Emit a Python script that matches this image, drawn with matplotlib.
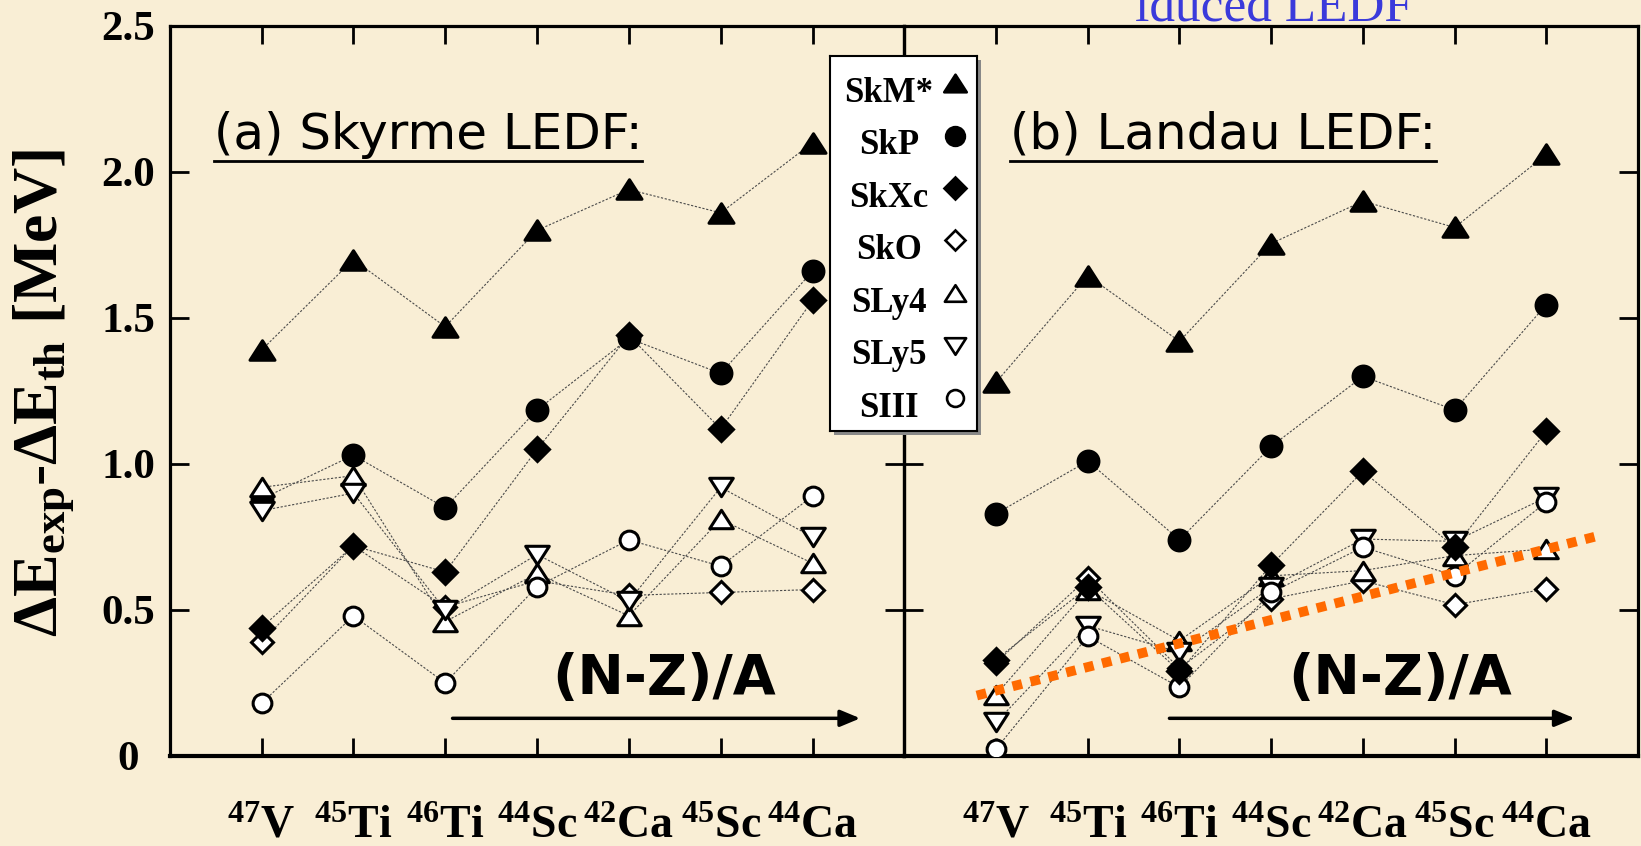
import numpy as np
import matplotlib.pyplot as plt
from matplotlib.lines import Line2D
from matplotlib.patches import Rectangle
from matplotlib.path import Path

plt.rcParams['font.family'] = ['Liberation Serif', 'DejaVu Serif']
plt.rcParams['font.weight'] = 'bold'
plt.rcParams['mathtext.fontset'] = 'custom'
plt.rcParams['mathtext.rm'] = 'Liberation Serif:bold'
plt.rcParams['mathtext.it'] = 'Liberation Serif:bold'
plt.rcParams['mathtext.bf'] = 'Liberation Serif:bold'

# nuclei along the x axis, ordered by (N-Z)/A
mass = [47, 45, 46, 44, 42, 45, 44]
element = ['V', 'Ti', 'Ti', 'Sc', 'Ca', 'Sc', 'Ca']
forces = ['SkM*', 'SkP', 'SkXc', 'SkO', 'SLy4', 'SLy5', 'SIII']

# (a) Skyrme LEDF: dE_exp - dE_th [MeV]
skm_a = [1.39, 1.70, 1.47, 1.80, 1.94, 1.86, 2.10]
skp_a = [0.88, 1.03, 0.85, 1.185, 1.43, 1.31, 1.66]
skxc_a = [0.44, 0.72, 0.63, 1.05, 1.44, 1.12, 1.56]
sko_a = [0.39, 0.72, 0.51, 0.60, 0.55, 0.56, 0.57]
sly4_a = [0.92, 0.96, 0.46, 0.625, 0.48, 0.81, 0.66]
sly5_a = [0.84, 0.90, 0.50, 0.69, 0.53, 0.92, 0.75]
siii_a = [0.18, 0.48, 0.25, 0.58, 0.74, 0.65, 0.89]

# (b) Landau LEDF
skm_b = [1.28, 1.645, 1.42, 1.755, 1.90, 1.81, 2.06]
skp_b = [0.83, 1.01, 0.74, 1.06, 1.30, 1.185, 1.546]
skxc_b = [0.33, 0.578, 0.29, 0.654, 0.975, 0.715, 1.112]
sko_b = [0.32, 0.61, 0.30, 0.538, 0.60, 0.518, 0.572]
sly4_b = [0.21, 0.57, 0.395, 0.617, 0.635, 0.686, 0.709]
sly5_b = [0.115, 0.446, 0.355, 0.578, 0.743, 0.735, 0.886]
siii_b = [0.024, 0.41, 0.235, 0.56, 0.715, 0.618, 0.87]

# linear trend drawn over panel (b)
trend_x = [0.79, 7.58]
trend_y = [0.207, 0.755]

panel_a = [skm_a, skp_a, skxc_a, sko_a, sly4_a, sly5_a, siii_a]
panel_b = [skm_b, skp_b, skxc_b, sko_b, sly4_b, sly5_b, siii_b]

x = np.arange(1, len(mass) + 1)
xlabels = [r'$^{%d}$%s' % (m, e) for m, e in zip(mass, element)]

# slightly flattened triangles, closed so the outline is complete
tri_up = Path([(-1, -0.78), (1, -0.78), (0, 0.78), (-1, -0.78)], closed=True)
tri_dn = Path([(-1, 0.78), (1, 0.78), (0, -0.78), (-1, 0.78)], closed=True)
styles = {
    'SkM*': dict(marker=tri_up, mfc='k', ms=18, zorder=3),
    'SkP': dict(marker='o', mfc='k', ms=15, zorder=3),
    'SkXc': dict(marker='D', mfc='k', ms=12.5, zorder=5),
    'SkO': dict(marker='D', mfc='w', ms=11.5, zorder=4),
    'SLy4': dict(marker=tri_up, mfc='w', ms=17, zorder=4),
    'SLy5': dict(marker=tri_dn, mfc='w', ms=17, zorder=4),
    'SIII': dict(marker='o', mfc='w', ms=13.5, zorder=4),
}

bg = '#F9EED5'
fig = plt.figure(figsize=(16.41, 8.46), dpi=100, facecolor=bg)
ax1 = fig.add_axes([0.1034, 0.1064, 0.4477, 0.8629])
ax2 = fig.add_axes([0.5511, 0.1064, 0.4471, 0.8629])

for ax, panel in ((ax1, panel_a), (ax2, panel_b)):
    ax.set_facecolor('none')
    for name, vals in zip(forces, panel):
        st = styles[name]
        ax.plot(x, vals, ls=(0, (2, 1.5)), lw=0.8, color='#4a4a4a', zorder=2)
        ax.plot(x, vals, ls='none', marker=st['marker'], ms=st['ms'],
                mfc=st['mfc'], mec='k', mew=2.2, zorder=st['zorder'])
    ax.set_xlim(0, 8)
    ax.set_ylim(0, 2.5)
    ax.set_xticks(x)
    ax.set_xticklabels(xlabels, fontsize=33)
    ax.set_yticks([0, 0.5, 1.0, 1.5, 2.0, 2.5])
    ax.tick_params(direction='in', top=True, right=True, width=2)
    ax.tick_params(axis='x', length=13, pad=36)
    ax.tick_params(axis='y', length=14)
    for s in ax.spines.values():
        s.set_linewidth(2.3)
    ax.spines['bottom'].set_linewidth(3)

ax1.set_yticklabels(['0', '0.5', '1.0', '1.5', '2.0', '2.5'], fontsize=31)
ax1.tick_params(axis='y', pad=30)
for lbl in ax1.get_yticklabels():
    lbl.set_ha('center')
ax2.set_yticklabels([])

ax2.plot(trend_x, trend_y, color='#FF6A00', lw=7, ls=(0, (1, 0.9)),
         dash_capstyle='butt', zorder=8)

# (N-Z)/A arrows
for ax, x0, x1, xt in ((ax1, 3.05, 7.55, 5.38), (ax2, 2.86, 7.34, 5.41)):
    ax.annotate('', xy=(x1, 0.129), xytext=(x0, 0.129),
                arrowprops=dict(arrowstyle='-|>,head_length=0.6,head_width=0.25',
                                lw=2.5, color='k', mutation_scale=20))
    ax.text(xt, 0.262, '(N-Z)/A', ha='center', va='center', fontsize=40,
            fontweight='bold', family='DejaVu Sans')

titles = [ax1.text(0.48, 2.08, '(a) Skyrme LEDF:', fontsize=36,
                   fontweight='normal', family='DejaVu Sans', va='baseline'),
          ax2.text(1.15, 2.08, '(b) Landau LEDF:', fontsize=36,
                   fontweight='normal', family='DejaVu Sans', va='baseline')]

fig.text(44 / 1641, 0.535, 'ΔE$_{\\rm exp}$-ΔE$_{\\rm th}$ [MeV]', rotation=90,
         ha='center', va='center', fontsize=46, fontweight='bold')

fig.text(1135 / 1641, 1 - 21 / 846, 'iduced LEDF', color='#3A3ADB',
         fontsize=37, fontweight='normal', va='baseline')

# legend box with drop shadow
lx, ly, lw_, lh = 830 / 1641, 1 - 431 / 846, 147 / 1641, 375 / 846
fig.add_artist(Rectangle((lx + 4 / 1641, ly - 4 / 846), lw_, lh,
                         transform=fig.transFigure, facecolor='#888888',
                         edgecolor='none', zorder=9))
lax = fig.add_axes([lx, ly, lw_, lh], zorder=10)
lax.set_facecolor('white')
lax.set_xlim(0, 1)
lax.set_ylim(0, 1)
lax.set_xticks([])
lax.set_yticks([])
for s in lax.spines.values():
    s.set_linewidth(1.5)
row_y = 0.901 - 0.14 * np.arange(len(forces))
for name, ry in zip(forces, row_y):
    st = styles[name]
    lax.text(0.40, ry, name, ha='center', va='center', fontsize=25)
    lax.plot([0.85], [ry + 0.027], ls='none', marker=st['marker'],
             ms=st['ms'] * 0.9, mfc=st['mfc'], mec='k', mew=1.9)

# underline the panel titles
fig.canvas.draw()
for t in titles:
    bb = t.get_window_extent().transformed(fig.transFigure.inverted())
    yline = bb.y0 - 2 / 846
    fig.add_artist(Line2D([bb.x0, bb.x1], [yline, yline], color='k', lw=2,
                          transform=fig.transFigure))

fig.savefig('out.png', dpi=100, facecolor=bg)
